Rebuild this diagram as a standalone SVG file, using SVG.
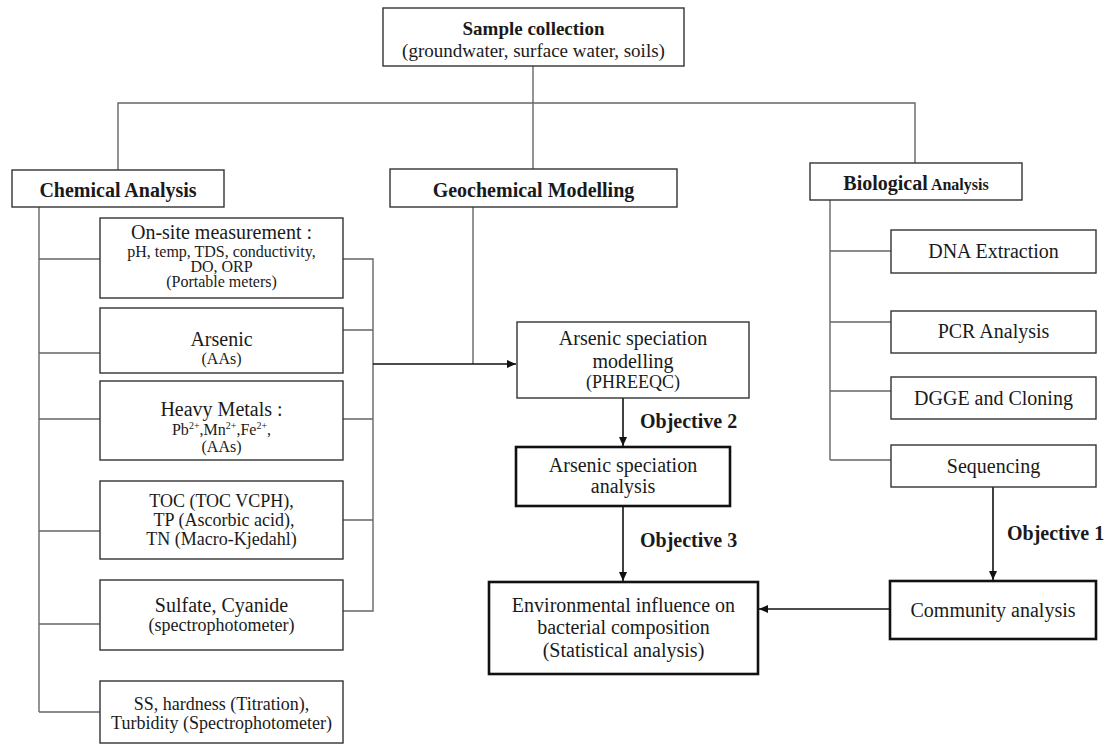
<svg xmlns="http://www.w3.org/2000/svg" width="1112" height="744" viewBox="0 0 1112 744">
<defs>
<marker id="ah" markerWidth="10" markerHeight="8" refX="9" refY="4" orient="auto" markerUnits="userSpaceOnUse">
<path d="M0,0 L9,4 L0,8 Z" fill="#111"/>
</marker>
<style>
text{font-family:"Liberation Serif","Times New Roman",serif;fill:#1a1a1a;text-anchor:middle}
.b{font-weight:bold}
.box{fill:#fff;stroke:#333;stroke-width:1.4}
.tbox{fill:#fff;stroke:#111;stroke-width:2.6}
.ln{fill:none;stroke:#666;stroke-width:1.4}
.ar{fill:none;stroke:#111;stroke-width:1.6;marker-end:url(#ah)}
.f20{font-size:20px}
.f16{font-size:16px}
.f18{font-size:18px}
</style>
</defs>
<rect width="1112" height="744" fill="#fff"/>
<g id="connectors">
<path class="ln" d="M533,66 V169"/>
<path class="ln" d="M118,170 V103 H915 V163"/>
<path class="ln" d="M39,207 V712"/>
<path class="ln" d="M39,259 H100 M39,353 H100 M39,419 H100 M39,531 H100 M39,624 H100 M39,712 H100"/>
<path class="ln" d="M343,259 H373 V611 H343 M343,330 H373 M343,419 H373 M343,520 H373"/>
<path class="ln" d="M473,207 V364"/>
<path class="ar" d="M373,364 H516"/>
<path class="ln" d="M830,200 V460"/>
<path class="ln" d="M830,251 H891 M830,322 H891 M830,391 H891 M830,460 H891"/>
<path class="ar" d="M623,398 V446"/>
<path class="ar" d="M623,506 V581"/>
<path class="ar" d="M993,487 V580"/>
<path class="ar" d="M890,609 H759"/>
<text class="b f20" x="640" y="428" style="text-anchor:start">Objective 2</text>
<text class="b f20" x="640" y="547" style="text-anchor:start">Objective 3</text>
<text class="b f20" x="1007" y="540" style="text-anchor:start">Objective 1</text>
</g>
<g id="sample">
<rect class="box" x="383" y="8" width="301" height="58"/>
<text class="b" x="533.5" y="35" font-size="19">Sample collection</text>
<text x="533.5" y="57" font-size="19">(groundwater, surface water, soils)</text>
</g>
<g id="chemical">
<rect class="box" x="12" y="170" width="212" height="37"/>
<text class="b f20" x="118" y="197">Chemical Analysis</text>
</g>
<g id="geochemical">
<rect class="box" x="390" y="169" width="287" height="38"/>
<text class="b f20" x="533.5" y="197">Geochemical Modelling</text>
</g>
<g id="biological">
<rect class="box" x="810" y="163" width="212" height="37"/>
<text class="b" x="916" y="190"><tspan font-size="20">Biological</tspan><tspan font-size="16"> Analysis</tspan></text>
</g>
<g id="onsite">
<rect class="box" x="100" y="218" width="243" height="80"/>
<text class="f20" x="221.5" y="239">On-site measurement :</text>
<text class="f16" x="221.5" y="257">pH, temp, TDS, conductivity,</text>
<text class="f16" x="221.5" y="272">DO, ORP</text>
<text class="f16" x="221.5" y="287">(Portable meters)</text>
</g>
<g id="arsenic">
<rect class="box" x="100" y="308" width="243" height="65"/>
<text class="f20" x="221.5" y="346">Arsenic</text>
<text class="f16" x="221.5" y="364">(AAs)</text>
</g>
<g id="heavymetals">
<rect class="box" x="100" y="381" width="243" height="79"/>
<text class="f20" x="221.5" y="416">Heavy Metals :</text>
<text class="f16" x="221.5" y="435">Pb<tspan font-size="10" dy="-6">2+</tspan><tspan dy="6">,Mn</tspan><tspan font-size="10" dy="-6">2+</tspan><tspan dy="6">,Fe</tspan><tspan font-size="10" dy="-6">2+</tspan><tspan dy="6">,</tspan></text>
<text class="f16" x="221.5" y="452">(AAs)</text>
</g>
<g id="toc">
<rect class="box" x="100" y="481" width="243" height="78"/>
<text class="f18" x="221.5" y="507">TOC (TOC VCPH),</text>
<text class="f18" x="224" y="526">TP (Ascorbic acid),</text>
<text class="f18" x="221.5" y="545">TN (Macro-Kjedahl)</text>
</g>
<g id="sulfate">
<rect class="box" x="100" y="580" width="243" height="70"/>
<text class="f20" x="221.5" y="612">Sulfate, Cyanide</text>
<text class="f18" x="221.5" y="631">(spectrophotometer)</text>
</g>
<g id="ss">
<rect class="box" x="100" y="681" width="243" height="62"/>
<text class="f18" x="221.5" y="710">SS, hardness (Titration),</text>
<text class="f18" x="221.5" y="729">Turbidity (Spectrophotometer)</text>
</g>
<g id="modelling">
<rect class="box" x="517" y="322" width="232" height="76"/>
<text class="f20" x="633" y="345">Arsenic speciation</text>
<text class="f20" x="633" y="368">modelling</text>
<text class="f18" x="633" y="388">(PHREEQC)</text>
</g>
<g id="speciation">
<rect class="tbox" x="516" y="447" width="214" height="59"/>
<text class="f20" x="623" y="472">Arsenic speciation</text>
<text class="f20" x="623" y="493">analysis</text>
</g>
<g id="environmental">
<rect class="tbox" x="489" y="582" width="269" height="92"/>
<text class="f20" x="623.5" y="612">Environmental influence on</text>
<text class="f20" x="623.5" y="634">bacterial composition</text>
<text class="f20" x="623.5" y="657">(Statistical analysis)</text>
</g>
<g id="dna">
<rect class="box" x="891" y="230" width="205" height="43"/>
<text class="f20" x="993.5" y="258">DNA Extraction</text>
</g>
<g id="pcr">
<rect class="box" x="891" y="311" width="205" height="42"/>
<text class="f20" x="993.5" y="338">PCR Analysis</text>
</g>
<g id="dgge">
<rect class="box" x="891" y="377" width="205" height="42"/>
<text class="f20" x="993.5" y="405">DGGE and Cloning</text>
</g>
<g id="sequencing">
<rect class="box" x="891" y="445" width="205" height="42"/>
<text class="f20" x="993.5" y="473">Sequencing</text>
</g>
<g id="community">
<rect class="tbox" x="890" y="581" width="206" height="58"/>
<text class="f20" x="993" y="617">Community analysis</text>
</g>
</svg>
